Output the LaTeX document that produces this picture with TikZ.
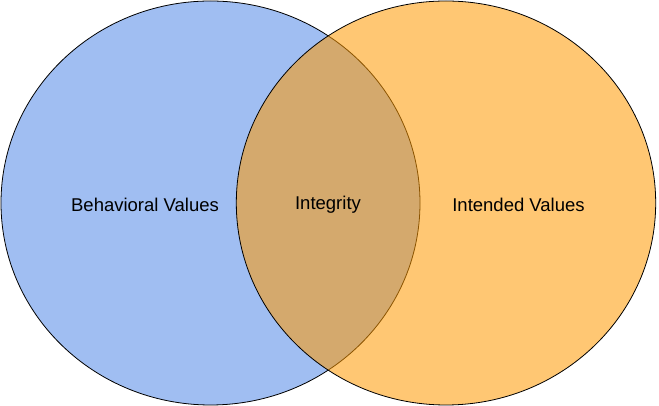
\documentclass[tikz,border=0pt]{standalone}
\usepackage{fontspec}
\setmainfont{Liberation Sans}
\definecolor{leftblue}{HTML}{A0BEF2}
\definecolor{rightorange}{HTML}{FF9900}
\begin{document}
\begin{tikzpicture}[x=1pt,y=1pt,
  venn/.style={draw=black,line width=0.8pt},
  label/.style={font=\fontsize{18.5}{22}\selectfont,text=black,inner sep=0pt}]
\useasboundingbox (0,0) rectangle (659,406);
% left ellipse
\path[venn,fill=leftblue] (210.5,203) ellipse [x radius=209.5,y radius=202];
% right ellipse, semi-transparent fill
\fill[rightorange,fill opacity=0.55] (446,203) ellipse [x radius=209.7,y radius=202];
\draw[venn] (446,203) ellipse [x radius=209.7,y radius=202];
% labels
\node[label] (bv) at (145,201.5) {Behavioral Values};
\node[label] (in) at (328,201.5) {Integrity};
\node[label] (iv) at (518.5,201.5) {Intended Values};
\end{tikzpicture}
\end{document}
